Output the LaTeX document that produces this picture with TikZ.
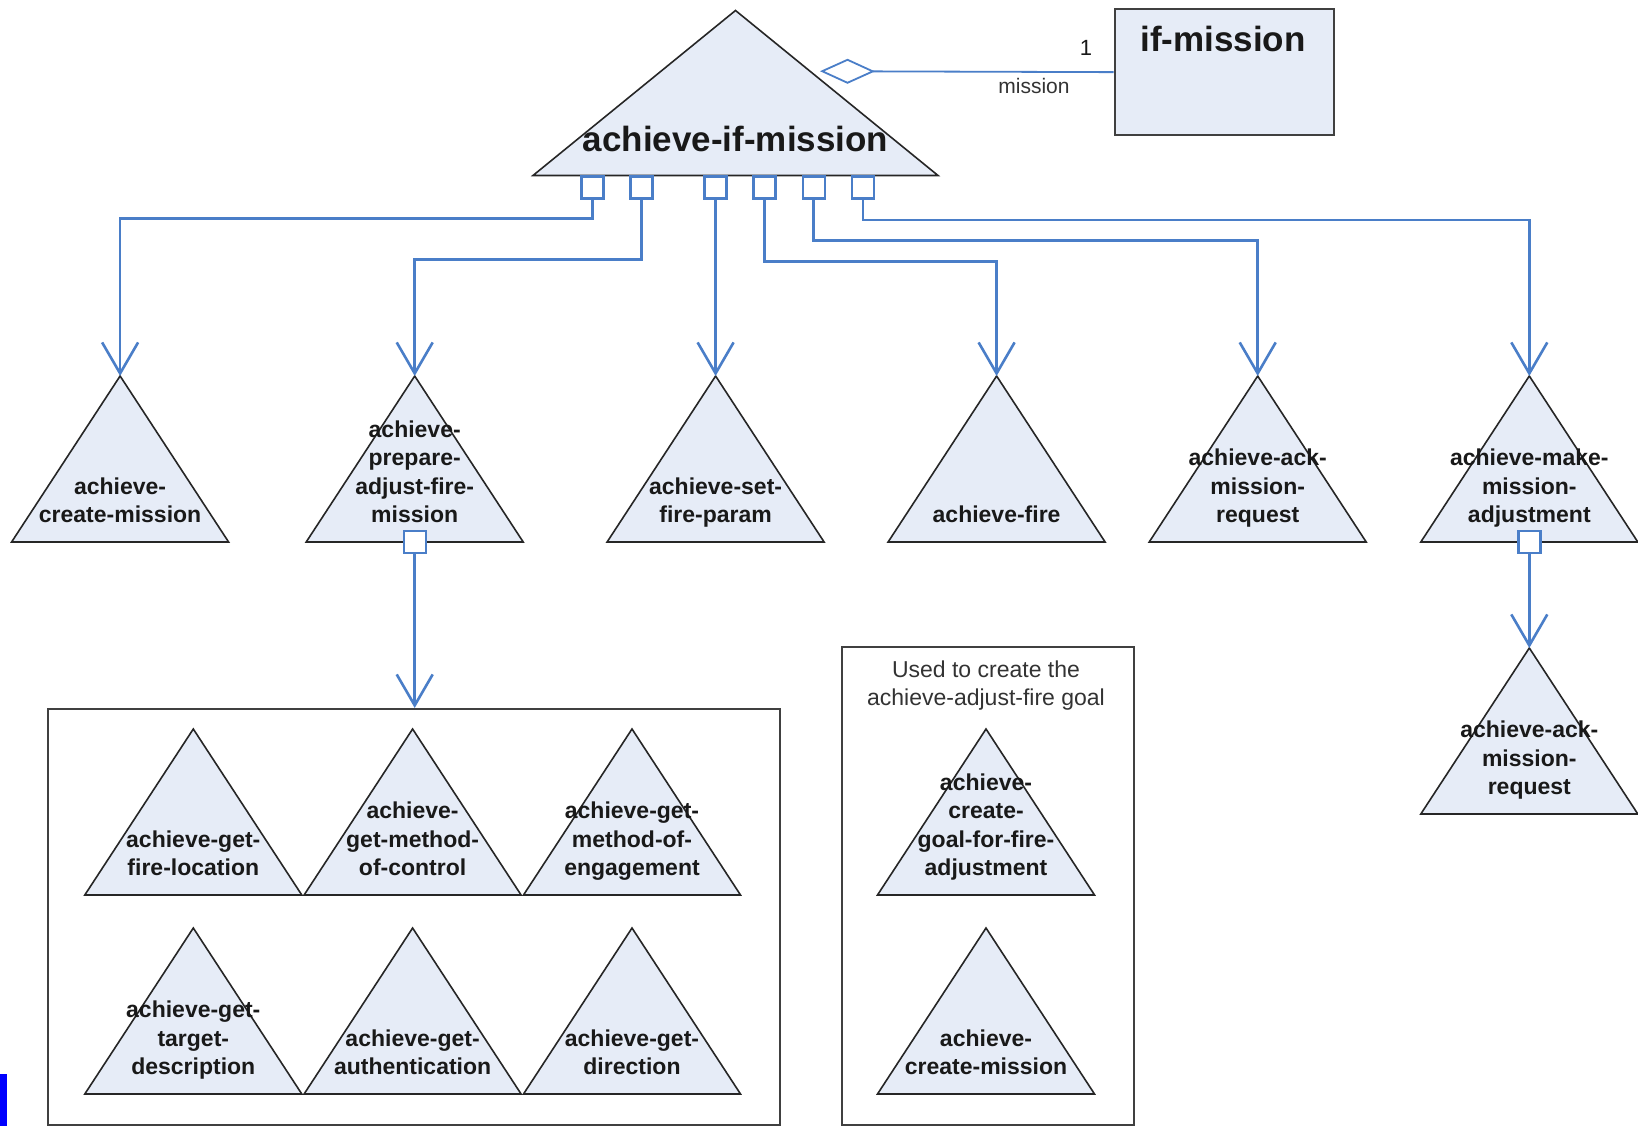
\documentclass[tikz,border=0pt]{standalone}
\usepackage{fontspec}
\setmainfont{Liberation Sans}
\usepackage{tikz}
\usetikzlibrary{calc}
\usetikzlibrary{arrows.meta}
\usetikzlibrary{shapes.geometric}
\usetikzlibrary{positioning}
\definecolor{goalfill}{RGB}{230,236,247}
\definecolor{linkblue}{RGB}{74,126,200}
\tikzset{goal/.style={isosceles triangle, isosceles triangle stretches, shape border rotate=90,
  minimum width=217pt, minimum height=166pt, inner sep=0pt, outer sep=0pt,
  draw=black!85, fill=goalfill, line width=1.6pt}}

\begin{document}
\begin{tikzpicture}[x=1pt,y=-1pt]
\tikzstyle{port} = [draw=linkblue, fill=white, line width=2.4pt, minimum width=22pt, minimum height=22pt, inner sep=0pt]
\tikzstyle{link} = [draw=linkblue, line width=2.6pt, -{Straight Barb[length=31pt,width=36pt]}]
\tikzstyle{lbl} = [font=\fontsize{23}{28.2}\selectfont\bfseries, align=center, anchor=south, inner sep=0pt, text depth=0pt, text=black!90]
\tikzstyle{big} = [font=\fontsize{35}{42}\selectfont\bfseries, inner sep=0pt, anchor=base, text=black!90]
\tikzstyle{note} = [font=\fontsize{23}{28.2}\selectfont, align=center, anchor=south, inner sep=0pt, text depth=0pt, text=black!80]
\tikzstyle{frame} = [draw=black!75, line width=2pt, inner sep=0pt, anchor=north west]

\useasboundingbox[fill=white] (0,0) rectangle (1638,1126);

% top goal and the mission object
\node[goal, minimum width=405pt, minimum height=165pt, anchor=apex] (aim) at (735.5,10.5){};
\node[big] (aim-t) at (735.5,152){achieve-if-mission};
\node[frame, fill=goalfill, minimum width=219.5pt, minimum height=125.5pt] (ifm) at (1113.5,8.4){};
\node[big] (ifm-t) at (1223,52){if-mission};
\coordinate (agg) at (820,71.2);
\draw[linkblue, line width=1.8pt, -{Diamond[open,length=55pt,width=25pt]}] (ifm.west) -- (agg);
\node[font=\fontsize{22}{26}\selectfont, text=black!90] (one) at (1086,48){1};
\node[font=\fontsize{21}{25}\selectfont, text=black!80] (role) at (1034,85.7){mission};

% ports under the top goal
\node[port, anchor=north] (p1) at (592.3,175.5){};
\node[port, anchor=north] (p2) at (641.4,175.5){};
\node[port, anchor=north] (p3) at (715.6,175.5){};
\node[port, anchor=north] (p4) at (764.6,175.5){};
\node[port, anchor=north] (p5) at (813.7,175.5){};
\node[port, anchor=north] (p6) at (862.8,175.5){};

% subgoals
\node[goal, anchor=apex] (acm) at (120.1,376){};
\node[goal, anchor=apex] (apa) at (414.7,376){};
\node[goal, anchor=apex] (asf) at (715.6,376){};
\node[goal, anchor=apex] (afi) at (996.6,376){};
\node[goal, anchor=apex] (aak) at (1257.7,376){};
\node[goal, anchor=apex] (amm) at (1529.3,376){};
\node[lbl] (acm-t) at ([yshift=19.5pt]acm.south){achieve-\\create-mission};
\node[lbl] (apa-t) at ([yshift=19.5pt]apa.south){achieve-\\prepare-\\adjust-fire-\\mission};
\node[lbl] (asf-t) at ([yshift=19.5pt]asf.south){achieve-set-\\fire-param};
\node[lbl] (afi-t) at ([yshift=19.5pt]afi.south){achieve-fire};
\node[lbl] (aak-t) at ([yshift=19.5pt]aak.south){achieve-ack-\\mission-\\request};
\node[lbl] (amm-t) at ([yshift=19.5pt]amm.south){achieve-make-\\mission-\\adjustment};

\draw[link] (p1.south) -- ++(0,18.5) -| (acm.apex);
\draw[link] (p2.south) -- ++(0,59.5) -| (apa.apex);
\draw[link] (p3.south) -- (asf.apex);
\draw[link] (p4.south) -- ++(0,61.5) -| (afi.apex);
\draw[link] (p5.south) -- ++(0,40.5) -| (aak.apex);
\draw[link] (p6.south) -- ++(0,20) -| (amm.apex);

% prepare group
\node[port] (p7) at (apa.south){};
\node[frame, minimum width=731.5pt, minimum height=416pt] (grp) at (47,708){};
\draw[link] (p7.south) -- (p7.south |- grp.north);
\node[goal, anchor=apex] (gfl) at (193.3,729){};
\node[goal, anchor=apex] (gmc) at (412.6,729){};
\node[goal, anchor=apex] (gme) at (632,729){};
\node[goal, anchor=apex] (gtd) at (193.3,928){};
\node[goal, anchor=apex] (gau) at (412.6,928){};
\node[goal, anchor=apex] (gdi) at (632,928){};
\node[lbl] (gfl-t) at ([yshift=19.5pt]gfl.south){achieve-get-\\fire-location};
\node[lbl] (gmc-t) at ([yshift=19.5pt]gmc.south){achieve-\\get-method-\\of-control};
\node[lbl] (gme-t) at ([yshift=19.5pt]gme.south){achieve-get-\\method-of-\\engagement};
\node[lbl] (gtd-t) at ([yshift=19.5pt]gtd.south){achieve-get-\\target-\\description};
\node[lbl] (gau-t) at ([yshift=19.5pt]gau.south){achieve-get-\\authentication};
\node[lbl] (gdi-t) at ([yshift=19.5pt]gdi.south){achieve-get-\\direction};

% adjust-fire group
\node[frame, minimum width=292pt, minimum height=478.5pt] (adj) at (841,645.5){};
\node[note] (adj-t) at (986,706){Used to create the\\achieve-adjust-fire goal};
\node[goal, anchor=apex] (cgf) at (986,729){};
\node[goal, anchor=apex] (ccm) at (986,928){};
\node[lbl] (cgf-t) at ([yshift=19.5pt]cgf.south){achieve-\\create-\\goal-for-fire-\\adjustment};
\node[lbl] (ccm-t) at ([yshift=19.5pt]ccm.south){achieve-\\create-mission};

% make-adjustment subgoal
\node[port] (p8) at (amm.south){};
\node[goal, anchor=apex] (amr) at (1529.3,648){};
\node[lbl] (amr-t) at ([yshift=19.5pt]amr.south){achieve-ack-\\mission-\\request};
\draw[link] (p8.south) -- (amr.apex);

\fill[blue] (0,1074) rectangle (7,1126);
\end{tikzpicture}
\end{document}
